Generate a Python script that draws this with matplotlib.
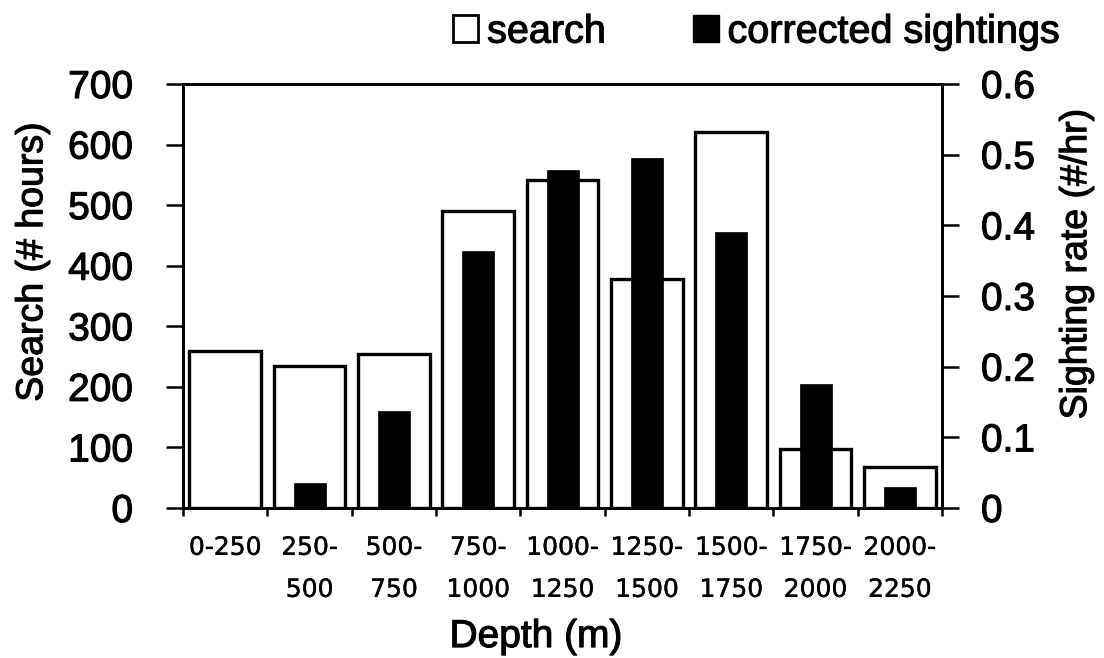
import matplotlib
matplotlib.use("Agg")
import numpy as np
import matplotlib.pyplot as plt
import matplotlib.patheffects as pe
from matplotlib import rcParams
from matplotlib.patches import Patch

rcParams['font.family'] = 'sans-serif'
rcParams['font.sans-serif'] = ['Liberation Sans', 'DejaVu Sans']

# depth bins and values
depth_bins = ["0-250", "250-\n500", "500-\n750", "750-\n1000", "1000-\n1250",
              "1250-\n1500", "1500-\n1750", "1750-\n2000", "2000-\n2250"]
search_hours = [260, 234, 254, 490, 541, 378, 621, 98, 68]
sighting_rate = [0.0, 0.035, 0.137, 0.364, 0.478, 0.496, 0.39, 0.176, 0.030]

x = np.arange(len(depth_bins))

# slightly thicker strokes, like the scanned print
heavy = [pe.withStroke(linewidth=0.8, foreground="black")]
light = [pe.withStroke(linewidth=0.3, foreground="black")]

fig = plt.figure(figsize=(11.04, 6.58), dpi=100)
ax = fig.add_axes([0.1658, 0.228, 0.6875, 0.6443])
ax2 = ax.twinx()

ax.bar(x, search_hours, width=0.85, facecolor="white", edgecolor="black",
       linewidth=2.4, zorder=2)
ax2.bar(x, sighting_rate, width=0.38, facecolor="black", edgecolor="black",
        linewidth=0.5, zorder=3)

ax.set_xlim(-0.5, len(depth_bins) - 0.5)
ax.set_ylim(0, 700)
ax2.set_ylim(0, 0.6)

ax.set_yticks(np.arange(0, 701, 100))
ax2.set_yticks([0, 0.1, 0.2, 0.3, 0.4, 0.5, 0.6])
ax2.set_yticklabels(["0", "0.1", "0.2", "0.3", "0.4", "0.5", "0.6"])

# ticks on category boundaries, labels at centers
ax.set_xticks(np.arange(-0.5, len(depth_bins), 1.0))
ax.set_xticklabels([])
ax.set_xticks(x, minor=True)
ax.set_xticklabels(depth_bins, minor=True, fontsize=18, family="DejaVu Sans",
                   linespacing=1.95, ha="center", multialignment="center")
ax.tick_params(axis="x", which="major", direction="out", length=6, width=1.8)
ax.tick_params(axis="x", which="minor", length=0, pad=20)

ax.tick_params(axis="y", direction="out", length=12, width=1.8, labelsize=28, pad=24)
ax2.tick_params(axis="y", direction="out", length=12, width=1.8, labelsize=28, pad=16)

for a in (ax, ax2):
    for s in a.spines.values():
        s.set_linewidth(2)

for t in ax.get_yticklabels() + ax2.get_yticklabels():
    t.set_path_effects(heavy)
for t in ax.get_xticklabels(minor=True):
    t.set_path_effects(light)

ax.set_ylabel("Search (# hours)", fontsize=27, path_effects=heavy)
ax.yaxis.set_label_coords(-0.175, 0.58)
ax2.set_ylabel("Sighting rate (#/hr)", fontsize=27, path_effects=heavy)
ax2.yaxis.set_label_coords(1.153, 0.575)
ax.set_xlabel("Depth (m)", fontsize=28, path_effects=heavy)
ax.xaxis.set_label_coords(0.465, -0.262)

handles = [Patch(facecolor="white", edgecolor="black", linewidth=2),
           Patch(facecolor="black", edgecolor="black")]
leg = fig.legend(handles, ["search", "corrected sightings"], loc="center left",
                 bbox_to_anchor=(0.41, 0.952), ncol=2, frameon=False, fontsize=28.5,
                 handlelength=0.65, handleheight=0.65, handletextpad=0.22,
                 columnspacing=2.2, borderaxespad=0, borderpad=0)
for t in leg.get_texts():
    t.set_path_effects(heavy)

plt.savefig("out.png", dpi=100)
